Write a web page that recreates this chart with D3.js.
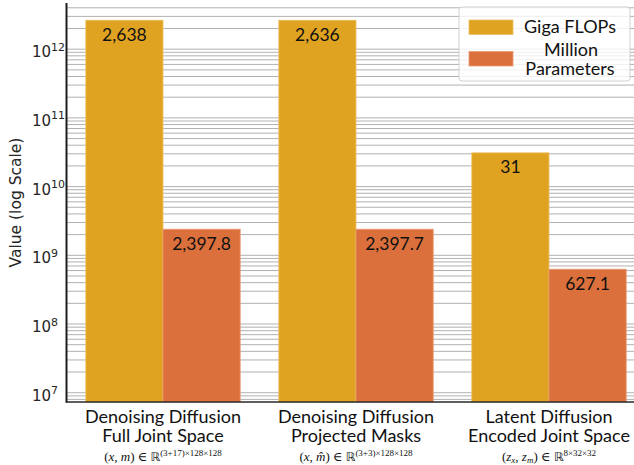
<!DOCTYPE html>
<html>
<head>
<meta charset="utf-8">
<script src="https://cdn.jsdelivr.net/npm/d3@7"></script>
<style>
  html, body { margin: 0; padding: 0; background: #fff; }
  svg { display: block; }
</style>
</head>
<body>
<div id="chart"></div>
<script>
// ---- data ----
const categoryLine1 = ["Denoising Diffusion", "Denoising Diffusion", "Latent Diffusion"];
const categoryLine2 = ["Full Joint Space", "Projected Masks", "Encoded Joint Space"];
const mathBase = ["(x, m)", "(x, m\u0302)", "(z_x, z_m)"];
const mathSup = ["(3+17)\u00d7128\u00d7128", "(3+3)\u00d7128\u00d7128", "8\u00d732\u00d732"];
const gigaFlops = [2638, 2636, 31];          // Giga FLOPs
const millionParams = [2397.8, 2397.7, 627.1]; // Million Parameters
const seriesNames = ["Giga FLOPs", "Million Parameters"];
const yTickExponents = [7, 8, 9, 10, 11, 12];

const W = 634, H = 465;
const colors = ["#E0A321", "#DC703C"];
const edgeColors = ["#EBC063", "#E89A73"];

const svg = d3.select("#chart").append("svg")
  .attr("width", W).attr("height", H)
  .attr("viewBox", `0 0 ${W} ${H}`);

const plotLeft = 66.5, plotTop = 3, plotBottom = 402;

// category positions: one unit per group, bars 0.4 wide on either side of the centre
const x = d3.scaleLinear().domain([-0.5, 2.5]).range([plotLeft, plotLeft + 3 * 193]);
const y = d3.scaleLog().domain([Math.pow(10, 6.865), Math.pow(10, 12.672)]).range([plotBottom, plotTop]);

// ---- grid (major + minor log lines) ----
const gridVals = [];
for (let e = 6; e <= 12; e++) {
  for (let m = 1; m <= 9; m++) {
    const v = m * Math.pow(10, e);
    if (v >= y.domain()[0] && v <= y.domain()[1]) gridVals.push(v);
  }
}
svg.append("g").selectAll("line").data(gridVals).join("line")
  .attr("x1", plotLeft).attr("x2", W)
  .attr("y1", d => y(d)).attr("y2", d => y(d))
  .attr("stroke", "#a8a8a8").attr("stroke-width", 0.9);

// ---- bars ----
const rows = gigaFlops.map((g, i) => ({
  i,
  vals: [g * 1e9, millionParams[i] * 1e6],
  labels: [d3.format(",")(g), d3.format(",.1f")(millionParams[i])]
}));

const barData = [];
rows.forEach(r => {
  barData.push({ i: r.i, s: 0, v: r.vals[0], label: r.labels[0] });
  barData.push({ i: r.i, s: 1, v: r.vals[1], label: r.labels[1] });
});

const barW = 0.4;
svg.append("g").selectAll("rect").data(barData).join("rect")
  .attr("x", d => x(d.i + (d.s === 0 ? -barW : 0)))
  .attr("width", d => x(barW) - x(0))
  .attr("y", d => y(d.v))
  .attr("height", d => plotBottom - y(d.v))
  .attr("fill", d => colors[d.s])
  .attr("stroke", d => edgeColors[d.s])
  .attr("stroke-width", 0.8);

svg.append("g").selectAll("text").data(barData).join("text")
  .attr("x", d => x(d.i + (d.s === 0 ? -barW / 2 : barW / 2)))
  .attr("y", d => y(d.v) + 20.5)
  .attr("text-anchor", "middle")
  .attr("font-family", "Lato, sans-serif")
  .attr("font-size", 17.5)
  .attr("fill", "#111")
  .text(d => d.label);

// ---- spines ----
svg.append("line").attr("x1", plotLeft).attr("x2", W).attr("y1", plotBottom).attr("y2", plotBottom)
  .attr("stroke", "#2a2a2a").attr("stroke-width", 1.6);
svg.append("line").attr("x1", plotLeft).attr("x2", plotLeft).attr("y1", plotTop).attr("y2", plotBottom + 0.8)
  .attr("stroke", "#1e1e1e").attr("stroke-width", 2);

// ---- y tick labels (10^n) ----
const yt = svg.append("g").selectAll("text").data(yTickExponents).join("text")
  .attr("x", 32)
  .attr("y", d => y(Math.pow(10, d)) + 8)
  .attr("font-family", "DejaVu Sans, sans-serif")
  .attr("font-size", 15)
  .attr("fill", "#262626");
yt.append("tspan").text("10");
yt.append("tspan").attr("dy", -6.5).attr("font-size", 11).text(d => d);

// ---- y axis title ----
svg.append("text")
  .attr("transform", `translate(21,${(plotTop + plotBottom) / 2}) rotate(-90)`)
  .attr("text-anchor", "middle")
  .attr("font-family", "DejaVu Sans, sans-serif")
  .attr("font-size", 15.5)
  .attr("fill", "#262626")
  .text("Value (log Scale)");

// ---- x category labels ----
const xl = svg.append("g");
categoryLine1.forEach((c, i) => {
  const cx = x(i);
  xl.append("text").attr("x", cx).attr("y", 423)
    .attr("text-anchor", "middle")
    .attr("font-family", "Lato, sans-serif").attr("font-size", 18).attr("fill", "#111")
    .text(c);
  xl.append("text").attr("x", cx).attr("y", 442)
    .attr("text-anchor", "middle")
    .attr("font-family", "Lato, sans-serif").attr("font-size", 18).attr("fill", "#111")
    .text(categoryLine2[i]);

  // set-membership line: letters italic, "_c" subscripts, superscript dimensions
  const t = xl.append("text").attr("x", cx).attr("y", 460.5)
    .attr("text-anchor", "middle")
    .attr("font-family", "'Liberation Serif', 'DejaVu Serif', serif")
    .attr("font-size", 13).attr("fill", "#111");
  const s = mathBase[i];
  let k = 0, pendingDy = 0;
  const add = (txt, italic) => {
    const sp = t.append("tspan").text(txt);
    if (italic) sp.attr("font-style", "italic");
    if (pendingDy) { sp.attr("dy", pendingDy); pendingDy = 0; }
    return sp;
  };
  while (k < s.length) {
    const ch = s[k];
    if (ch === "_") {
      add(s[k + 1], true).attr("dy", 2.5 + pendingDy).attr("font-size", 9);
      pendingDy = -2.5;
      k += 2;
      continue;
    }
    if (/[a-z]/.test(ch)) {
      let word = ch;
      if (s[k + 1] === "\u0302") { word += "\u0302"; k++; }
      add(word, true);
    } else if (ch === " ") {
      add("\u00a0", false);
    } else {
      add(ch, false);
    }
    k++;
  }
  add("\u00a0\u2208\u00a0", false);
  add("\u211D", false).attr("font-family", "'DejaVu Sans', sans-serif").attr("font-size", 12);
  t.append("tspan").attr("dy", -5).attr("font-size", 9).text(mathSup[i]);
});

// ---- legend ----
const lg = svg.append("g");
lg.append("rect").attr("x", 459).attr("y", 7).attr("width", 171).attr("height", 74)
  .attr("rx", 3).attr("fill", "#fff").attr("fill-opacity", 0.8)
  .attr("stroke", "#d0d0d0").attr("stroke-width", 1);
const swatchY = [20, 51.5];
seriesNames.forEach((n, i) => {
  lg.append("rect").attr("x", 469).attr("y", swatchY[i]).attr("width", 44).attr("height", 14.5)
    .attr("fill", colors[i]).attr("stroke", edgeColors[i]).attr("stroke-width", 0.8);
});
lg.append("text").attr("x", 570).attr("y", 33)
  .attr("text-anchor", "middle").attr("font-family", "Lato, sans-serif")
  .attr("font-size", 18).attr("fill", "#111").text(seriesNames[0]);
const words = seriesNames[1].split(" ");
lg.append("text").attr("x", 571).attr("y", 55.5)
  .attr("text-anchor", "middle").attr("font-family", "Lato, sans-serif")
  .attr("font-size", 18).attr("fill", "#111").text(words[0]);
lg.append("text").attr("x", 570).attr("y", 74.5)
  .attr("text-anchor", "middle").attr("font-family", "Lato, sans-serif")
  .attr("font-size", 18).attr("fill", "#111").text(words[1]);
</script>
</body>
</html>
